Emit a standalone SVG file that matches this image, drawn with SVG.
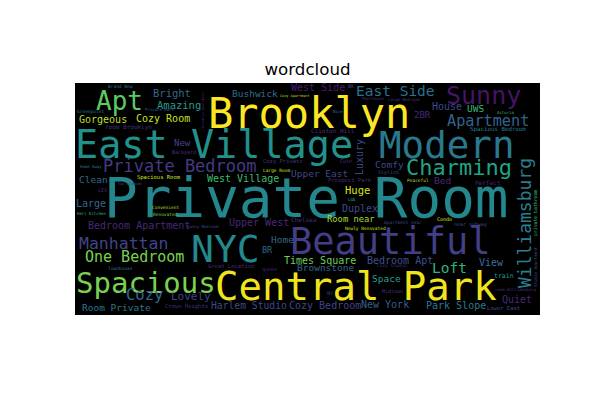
<svg xmlns="http://www.w3.org/2000/svg" width="600" height="400" viewBox="0 0 600 400">
<style>
.w{font-family:"DejaVu Sans Mono","Liberation Mono",monospace;}
.t{font-family:"DejaVu Sans","Liberation Sans",sans-serif;font-size:16.67px;fill:#000;}
</style>
<rect width="600" height="400" fill="#ffffff"/>
<text class="t" x="307.5" y="74.5" text-anchor="middle">wordcloud</text>
<rect id="canvas" x="75" y="83" width="465" height="232" fill="#000000"/>
<g id="words" class="w">
<text x="104" y="217" font-size="56" fill="#24878e">Private Room</text>
<text x="208" y="128" font-size="42" fill="#fde725">Brooklyn</text>
<text x="75" y="158" font-size="38.5" fill="#21918c">East Village</text>
<text x="379" y="158" font-size="37.5" fill="#2a788e">Modern</text>
<text x="290" y="254" font-size="37" fill="#433e85">Beautiful</text>
<text x="191" y="262" font-size="38" fill="#23898e">NYC</text>
<text x="215" y="300" font-size="39" fill="#f0e51d">Central Park</text>
<text x="76" y="293" font-size="29" fill="#7ad151">Spacious</text>
<text x="446" y="104" font-size="25" fill="#471365">Sunny</text>
<text x="96" y="110" font-size="26" fill="#5ec962">Apt</text>
<text x="406" y="175" font-size="22" fill="#20a386">Charming</text>
<text transform="translate(531,288) rotate(-90)" font-size="18" fill="#2a7f8e">Williamsburg</text>
<text x="103" y="172" font-size="17" fill="#443a83">Private Bedroom</text>
<text x="79" y="249" font-size="16.5" fill="#414487">Manhattan</text>
<text x="85" y="262" font-size="15" fill="#7ad151">One Bedroom</text>
<text x="126" y="300" font-size="15.5" fill="#31688e">Cozy</text>
<text x="356" y="96" font-size="14.5" fill="#2c728e">East Side</text>
<text x="447" y="126" font-size="15.2" fill="#33638d">Apartment</text>
<text x="432" y="273" font-size="14.5" fill="#2fb47c">Loft</text>
<text x="153" y="97" font-size="10.5" fill="#31688e">Bright</text>
<text x="157" y="109" font-size="10.5" fill="#29968b">Amazing</text>
<text x="79" y="123" font-size="10" fill="#bddf26">Gorgeous</text>
<text x="136" y="122" font-size="10" fill="#c8e020">Cozy Room</text>
<text x="232" y="97" font-size="9.5" fill="#2f6e8e">Bushwick</text>
<text x="291" y="91" font-size="10" fill="#481c6e">West Side</text>
<text x="432" y="110" font-size="10" fill="#3e4a89">House</text>
<text x="467" y="112" font-size="9.5" fill="#35b779">UWS</text>
<text x="414" y="118" font-size="9" fill="#482878">2BR</text>
<text x="174" y="146" font-size="9" fill="#414487">New</text>
<text x="79" y="183" font-size="9.5" fill="#31688e">Clean</text>
<text x="207" y="182" font-size="10" fill="#3fbc73">West Village</text>
<text x="76" y="207" font-size="10" fill="#31688e">Large</text>
<text x="88" y="229" font-size="10" fill="#482878">Bedroom Apartment</text>
<text x="229" y="226" font-size="10" fill="#482878">Upper West</text>
<text x="291" y="177" font-size="9.5" fill="#3e4989">Upper East</text>
<text transform="translate(363,175) rotate(-90)" font-size="10" fill="#3e4989">Luxury</text>
<text x="345" y="194" font-size="10.5" fill="#d8e219">Huge</text>
<text x="342" y="212" font-size="10" fill="#3e4989">Duplex</text>
<text x="327" y="222" font-size="8.8" fill="#a8db34">Room near</text>
<text x="375" y="168" font-size="9.5" fill="#3e4989">Comfy</text>
<text x="434" y="184" font-size="9.5" fill="#482878">Bed</text>
<text x="271" y="243" font-size="9.5" fill="#31688e">Home</text>
<text x="262" y="253" font-size="8.5" fill="#31688e">BR</text>
<text x="284" y="264" font-size="10" fill="#6ece58">Times Square</text>
<text x="367" y="264" font-size="10" fill="#3f4f8b">Bedroom Apt</text>
<text x="297" y="271" font-size="9.5" fill="#31688e">Brownstone</text>
<text x="372" y="282" font-size="9.5" fill="#2a9d8a">Space</text>
<text x="479" y="266" font-size="10" fill="#3b6e9a">View</text>
<text x="494" y="278" font-size="6.5" fill="#1f9e89">train</text>
<text x="502" y="303" font-size="10" fill="#482878">Quiet</text>
<text x="426" y="309" font-size="10" fill="#2a788e">Park Slope</text>
<text x="361" y="308" font-size="10" fill="#355f8d">New York</text>
<text x="289" y="309" font-size="10" fill="#414487">Cozy Bedroom</text>
<text x="211" y="309" font-size="9.7" fill="#3e4989">Harlem Studio</text>
<text x="171" y="300" font-size="11" fill="#414487">Lovely</text>
<text x="82" y="311" font-size="9.5" fill="#2a788e">Room Private</text>
<text x="291" y="222" font-size="6" fill="#46337e">Chelsea</text>
<text x="108" y="88" font-size="4.5" fill="#2a788e">Brand New</text>
<text x="105" y="129" font-size="6" fill="#46337e">room Brooklyn</text>
<text x="77" y="113" font-size="4.5" fill="#2a788e">Greenpoint</text>
<text x="145" y="111" font-size="4" fill="#355f8d">Private Bath</text>
<text transform="translate(204,128) rotate(-90)" font-size="3.3" fill="#482878">Brooklyn Apartment</text>
<text x="280" y="97" font-size="3.5" fill="#b5de2b">Cozy Apartment</text>
<text x="348" y="88" font-size="5" fill="#3e4989">BK</text>
<text x="362" y="100" font-size="4" fill="#46337e">Penthouse</text>
<text x="333" y="113" font-size="4" fill="#2a788e">Nice</text>
<text x="311" y="133" font-size="6" fill="#46337e">Clinton Hill</text>
<text x="388" y="101" font-size="4" fill="#46337e">Large Bedroom</text>
<text x="497" y="114" font-size="4" fill="#35b779">Astoria</text>
<text x="470" y="131" font-size="5.8" fill="#2a788e">Spacious Bedroom</text>
<text x="80" y="168" font-size="4" fill="#2a788e">Home Away</text>
<text x="137" y="179" font-size="5.5" fill="#c8e020">Spacious Room</text>
<text x="118" y="185" font-size="3.5" fill="#3e4989">Two Bedroom</text>
<text x="98" y="192" font-size="5" fill="#482878">LES</text>
<text x="77" y="215" font-size="4" fill="#35b779">Hell Kitchen</text>
<text x="152" y="209" font-size="4.5" fill="#bddf26">Convenient</text>
<text x="153" y="216" font-size="4.5" fill="#7ad151">Renovated</text>
<text x="187" y="228" font-size="4" fill="#3e4989">Sunny Bedroom</text>
<text x="263" y="163" font-size="5.5" fill="#46337e">Cozy Private</text>
<text x="340" y="163" font-size="5" fill="#46337e">Cute</text>
<text x="263" y="172" font-size="4.5" fill="#d8e219">Large Room</text>
<text x="328" y="182" font-size="5.5" fill="#482878">Prospect Park</text>
<text x="378" y="174" font-size="5" fill="#3e4989">Stylish</text>
<text x="407" y="182" font-size="4.5" fill="#bddf26">Peaceful</text>
<text x="475" y="185" font-size="6" fill="#482878">Perfect</text>
<text x="384" y="224" font-size="4.5" fill="#3e4989">Apartment near</text>
<text x="437" y="221" font-size="5" fill="#d8e219">Condo</text>
<text x="454" y="226" font-size="5" fill="#3e4989">near subway</text>
<text x="345" y="230" font-size="4.5" fill="#c8e020">Newly Renovated</text>
<text x="348" y="201" font-size="4" fill="#35b779">LGA</text>
<text x="327" y="295" font-size="5" fill="#46337e">NY</text>
<text x="382" y="293" font-size="5" fill="#46337e">Midtown</text>
<text x="262" y="271" font-size="5" fill="#482878">queen</text>
<text x="208" y="268" font-size="5.5" fill="#482878">Great Location</text>
<text x="165" y="308" font-size="5.5" fill="#46337e">Crown Heights</text>
<text x="108" y="270" font-size="4.5" fill="#2a788e">Townhouse</text>
<text x="377" y="267" font-size="4.5" fill="#46337e">Cozy Studio</text>
<text x="495" y="291" font-size="4" fill="#46337e">room Williamsburg</text>
<text x="487" y="310" font-size="5.5" fill="#3e4989">Lower East</text>
<text x="172" y="154" font-size="5" fill="#46337e">Backyard</text>
<text transform="translate(537,236) rotate(-90)" font-size="4.8" fill="#35b779">private bathroom</text>
<text transform="translate(537,287) rotate(-90)" font-size="4.2" fill="#3e4989">Studio Apartment</text>
</g>
</svg>
